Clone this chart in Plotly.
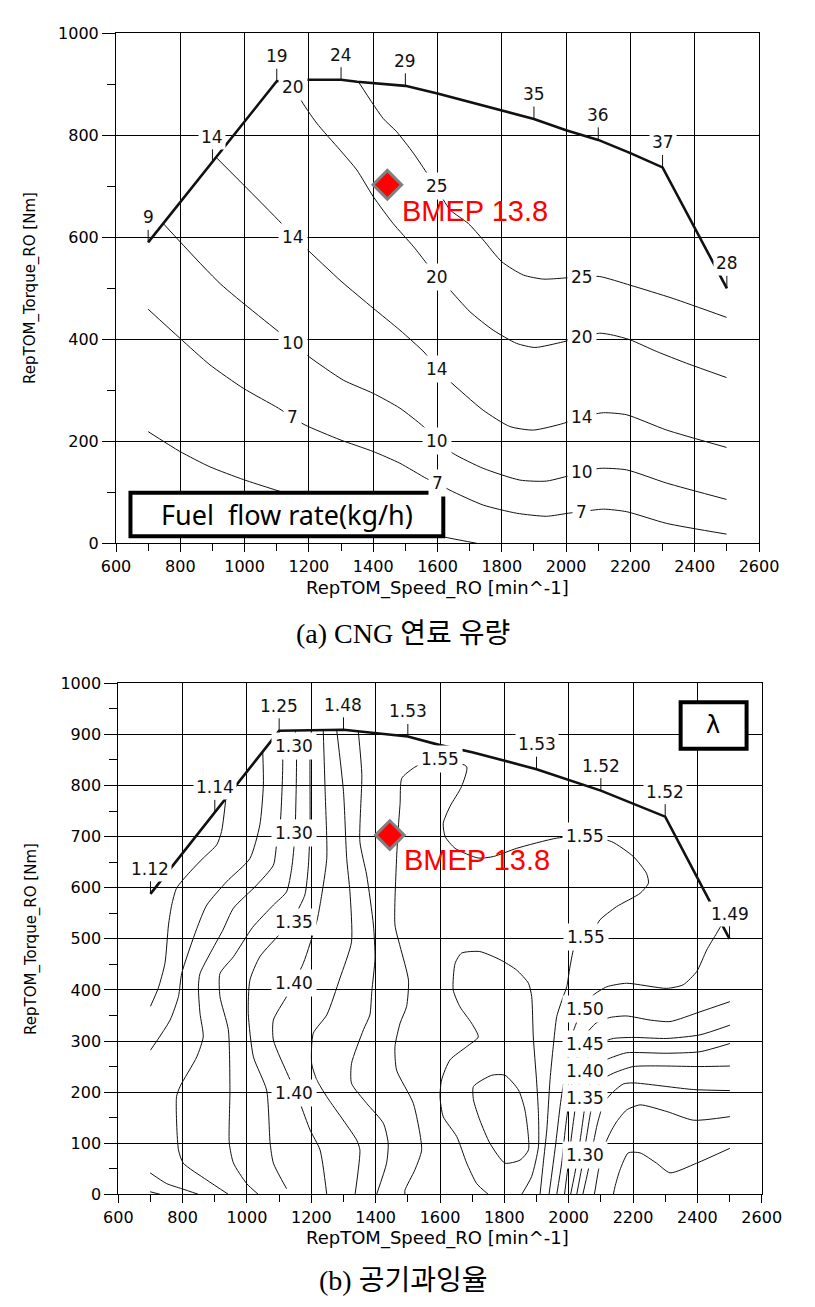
import numpy as np
import plotly.graph_objects as go

W, H = 815, 1307

# ---------------- (a) CNG fuel flow rate map ----------------
FUEL_FULL_SPEED = [700, 1100, 1200, 1300, 1350, 1500, 1600, 1800, 1900, 2000, 2100, 2200, 2300, 2500]
FUEL_FULL_TORQUE = [590, 906, 909, 909, 905, 897, 882, 848, 832, 810, 791, 765, 737, 500]
FUEL_FULL_LABEL_SPEED = [700, 900, 1100, 1300, 1500, 1900, 2100, 2300, 2500]
FUEL_FULL_LABEL_TEXT = ["9", "14", "19", "24", "29", "35", "36", "37", "28"]

FUEL_C25_SPEED = [1354, 1431, 1473, 1525, 1571, 1599, 1639, 1696, 1742, 1800, 1867, 1929, 1991, 2048, 2105, 2200, 2333, 2499]
FUEL_C25_TORQUE = [905, 833, 807, 765, 722, 694, 654, 627, 595, 552, 526, 518, 520, 523, 523, 506, 480, 443]
FUEL_C20_SPEED = [1155, 1172, 1224, 1297, 1349, 1400, 1462, 1525, 1566, 1599, 1634, 1701, 1773, 1846, 1903, 1991, 2048, 2105, 2147, 2199, 2282, 2375, 2499]
FUEL_C20_TORQUE = [908, 873, 824, 771, 732, 680, 627, 582, 549, 522, 500, 454, 418, 392, 384, 395, 404, 412, 408, 399, 376, 353, 325]
FUEL_C14_SPEED = [911, 1115, 1151, 1188, 1300, 1400, 1483, 1561, 1599, 1634, 1742, 1825, 1898, 1991, 2048, 2116, 2188, 2313, 2499]
FUEL_C14_TORQUE = [757, 627, 601, 580, 514, 461, 418, 373, 341, 320, 261, 229, 222, 235, 248, 256, 252, 222, 188]
FUEL_C10_SPEED = [747, 926, 1151, 1198, 1307, 1400, 1483, 1556, 1599, 1649, 1742, 1856, 1939, 2048, 2105, 2188, 2313, 2499]
FUEL_C10_TORQUE = [627, 508, 392, 367, 320, 294, 265, 229, 201, 176, 147, 124, 122, 139, 147, 144, 118, 86]
FUEL_C7_SPEED = [700, 799, 892, 996, 1105, 1149, 1188, 1297, 1400, 1483, 1566, 1599, 1639, 1742, 1846, 1939, 2007, 2048, 2116, 2188, 2313, 2499]
FUEL_C7_TORQUE = [459, 402, 350, 304, 265, 247, 232, 203, 180, 157, 127, 118, 104, 75, 59, 53, 59, 62, 67, 62, 39, 18]
FUEL_C4_SPEED = [700, 799, 892, 996, 1089, 1300, 1450, 1639, 1722]
FUEL_C4_TORQUE = [219, 180, 150, 125, 106, 65, 35, 10, 0]

FUEL_LABEL_TEXT = ["20", "25", "14", "20", "25", "10", "20", "14", "7", "14", "10", "10", "7", "7"]
FUEL_LABEL_SPEED = [1151, 1597, 1151, 1599, 2048, 1151, 2048, 1599, 1149, 2048, 1599, 2048, 1599, 2048]
FUEL_LABEL_TORQUE = [895, 701, 601, 522, 523, 392, 404, 341, 247, 248, 201, 139, 118, 62]

BMEP_SPEED = [1444]
BMEP_TORQUE = [703]

# ---------------- (b) excess air ratio (lambda) map ----------------
LAM_FULL_SPEED = [700, 1100, 1300, 1350, 1500, 1600, 1700, 1900, 2100, 2300, 2500]
LAM_FULL_TORQUE = [588, 907, 909, 906, 896, 879, 865, 832, 790, 739, 500]
LAM_FULL_LABEL_SPEED = [700, 900, 1100, 1300, 1500, 1900, 2100, 2300, 2500]
LAM_FULL_LABEL_TEXT = ["1.12", "1.14", "1.25", "1.48", "1.53", "1.53", "1.52", "1.52", "1.49"]

LAM_L1_SPEED = [935, 921, 906, 864, 823, 781, 766, 756, 745, 724, 700]
LAM_L1_TORQUE = [778, 710, 684, 658, 631, 599, 566, 527, 452, 403, 368]
LAM_L2_SPEED = [1049, 1051, 1040, 1009, 937, 875, 844, 797, 787, 761, 700]
LAM_L2_TORQUE = [866, 801, 723, 657, 612, 566, 520, 432, 387, 341, 282]
LAM_L3_SPEED = [1100, 1111, 1103, 1092, 1082, 1030, 958, 925, 854, 849, 854, 864, 844, 792, 781, 787, 802, 875, 942]
LAM_L3_TORQUE = [907, 856, 723, 684, 644, 605, 560, 517, 432, 406, 354, 308, 269, 211, 191, 87, 61, 28, 0]
LAM_L4_SPEED = [1150, 1154, 1149, 1139, 1123, 1082, 1017, 958, 916, 916, 942, 947, 945, 958, 999, 1035]
LAM_L4_TORQUE = [908, 856, 703, 638, 592, 566, 522, 465, 432, 387, 322, 204, 100, 61, 21, 0]
LAM_L5_SPEED = [1200, 1196, 1196, 1191, 1180, 1155, 1113, 1040, 1009, 1004, 1020, 1061, 1072, 1082, 1123]
LAM_L5_TORQUE = [908, 856, 723, 644, 586, 553, 517, 465, 419, 354, 269, 204, 100, 61, 11]
LAM_L6_SPEED = [1237, 1243, 1248, 1227, 1217, 1175, 1123, 1082, 1082, 1134, 1165, 1196, 1227, 1248]
LAM_L6_TORQUE = [909, 788, 657, 566, 534, 452, 387, 341, 302, 224, 178, 126, 87, 0]
LAM_L7_SPEED = [1279, 1300, 1310, 1320, 1325, 1289, 1248, 1206, 1201, 1217, 1248, 1341, 1351, 1336]
LAM_L7_TORQUE = [908, 788, 657, 592, 494, 423, 351, 315, 256, 224, 191, 106, 87, 0]
LAM_L8_SPEED = [1346, 1357, 1351, 1372, 1393, 1398, 1388, 1382, 1362, 1325, 1325, 1372, 1424, 1439, 1434, 1403]
LAM_L8_TORQUE = [906, 821, 690, 625, 527, 462, 397, 351, 322, 256, 217, 178, 139, 100, 61, 0]
LAM_L9_SPEED = [1600, 1560, 1517, 1481, 1476, 1471, 1465, 1460, 1476, 1502, 1496, 1476, 1460, 1465, 1517, 1543, 1522, 1491, 1491]
LAM_L9_TORQUE = [851, 848, 834, 814, 765, 723, 657, 527, 485, 419, 367, 335, 289, 243, 178, 87, 48, 8, 0]
LAM_M_SPEED = [1600, 1683, 1667, 1631, 1610, 1616, 1647, 1719, 1766, 1838, 1963, 2051, 2134, 2201, 2242, 2248, 2222, 2149, 2097, 2082, 2054, 2020, 2004, 1994, 1983, 1963, 1952, 1942, 1932, 1921, 1911]
LAM_M_TORQUE = [851, 837, 798, 759, 726, 700, 677, 658, 661, 677, 697, 701, 690, 661, 628, 609, 589, 563, 537, 521, 504, 488, 445, 406, 387, 348, 289, 224, 126, 61, 0]
LAM_U_SPEED = [1750, 1714, 1683, 1652, 1610, 1600, 1605, 1631, 1683, 1719, 1698, 1662, 1641, 1647, 1667, 1724, 1787, 1838, 1875, 1885, 1890, 1900, 1906, 1906, 1885, 1854]
LAM_U_TORQUE = [0, 21, 61, 113, 152, 191, 224, 263, 289, 308, 335, 367, 400, 452, 472, 475, 459, 439, 413, 387, 308, 224, 158, 93, 35, 0]
LAM_LOOP_SPEED = [1704, 1761, 1802, 1844, 1864, 1875, 1849, 1802, 1755, 1724, 1704, 1704]
LAM_LOOP_TORQUE = [211, 233, 233, 204, 165, 87, 67, 61, 100, 145, 185, 211]
LAM_R0_SPEED = [2476, 2460, 2429, 2398, 2356, 2305, 2180, 2118, 2077, 2045, 2015, 1995, 1975, 1958, 1939]
LAM_R0_TORQUE = [528, 511, 478, 436, 410, 403, 413, 406, 390, 365, 320, 260, 180, 90, 0]
LAM_R1_SPEED = [2501, 2408, 2315, 2253, 2180, 2128, 2085, 2050, 2025, 2005, 1990, 1978, 1963]
LAM_R1_TORQUE = [377, 357, 338, 341, 349, 346, 335, 310, 265, 200, 130, 60, 0]
LAM_R2_SPEED = [2501, 2408, 2305, 2201, 2139, 2095, 2065, 2040, 2022, 2008, 1997, 1987]
LAM_R2_TORQUE = [331, 312, 305, 307, 305, 295, 275, 235, 175, 110, 50, 0]
LAM_R3_SPEED = [2501, 2408, 2305, 2180, 2139, 2100, 2075, 2055, 2040, 2025, 2006]
LAM_R3_TORQUE = [295, 279, 276, 277, 269, 258, 235, 190, 125, 60, 0]
LAM_R4_SPEED = [2501, 2408, 2201, 2139, 2105, 2085, 2068, 2055, 2040, 2025]
LAM_R4_TORQUE = [251, 250, 250, 237, 225, 205, 160, 110, 50, 0]
LAM_R5_SPEED = [2501, 2388, 2201, 2170, 2139, 2110, 2090, 2075, 2060, 2044]
LAM_R5_TORQUE = [203, 205, 218, 216, 201, 180, 140, 95, 45, 0]
LAM_R6_SPEED = [2501, 2388, 2305, 2222, 2180, 2149, 2128, 2105, 2092, 2080]
LAM_R6_TORQUE = [152, 145, 162, 175, 165, 142, 119, 85, 45, 0]
LAM_R7_SPEED = [2501, 2398, 2315, 2273, 2222, 2185, 2159, 2144, 2139]
LAM_R7_TORQUE = [90, 61, 42, 61, 81, 81, 47, 15, 0]
LAM_S1_SPEED = [699, 750, 797, 849]
LAM_S1_TORQUE = [42, 21, 11, 0]
LAM_S2_SPEED = [699, 730]
LAM_S2_TORQUE = [5, 0]

LAM_LABEL_TEXT = ["1.30", "1.30", "1.35", "1.40", "1.40", "1.55", "1.55", "1.55", "1.50", "1.45", "1.40", "1.35", "1.30"]
LAM_LABEL_SPEED = [1147, 1147, 1147, 1147, 1147, 1600, 2051, 2054, 2051, 2051, 2051, 2051, 2051]
LAM_LABEL_TORQUE = [878, 708, 533, 413, 199, 851, 701, 504, 362, 294, 241, 188, 77]

# ---------------------------------------------------------------
fig = go.Figure()
LINE_COLOR = "#111111"


def add_line(xs, ys, axes, width=1.0, smooth=True):
    fig.add_trace(go.Scatter(
        x=xs, y=ys, mode="lines", xaxis=axes[0], yaxis=axes[1],
        line=dict(color=LINE_COLOR, width=width,
                  shape="spline" if smooth else "linear", smoothing=0.6),
        hoverinfo="skip", showlegend=False))


TOP = ("x", "y")
BOT = ("x2", "y2")

for xs, ys in [(FUEL_C25_SPEED, FUEL_C25_TORQUE), (FUEL_C20_SPEED, FUEL_C20_TORQUE),
               (FUEL_C14_SPEED, FUEL_C14_TORQUE), (FUEL_C10_SPEED, FUEL_C10_TORQUE),
               (FUEL_C7_SPEED, FUEL_C7_TORQUE), (FUEL_C4_SPEED, FUEL_C4_TORQUE)]:
    add_line(xs, ys, TOP)
add_line(FUEL_FULL_SPEED, FUEL_FULL_TORQUE, TOP, width=2.6, smooth=False)

for xs, ys in [(LAM_L1_SPEED, LAM_L1_TORQUE), (LAM_L2_SPEED, LAM_L2_TORQUE),
               (LAM_L3_SPEED, LAM_L3_TORQUE), (LAM_L4_SPEED, LAM_L4_TORQUE),
               (LAM_L5_SPEED, LAM_L5_TORQUE), (LAM_L6_SPEED, LAM_L6_TORQUE),
               (LAM_L7_SPEED, LAM_L7_TORQUE), (LAM_L8_SPEED, LAM_L8_TORQUE),
               (LAM_L9_SPEED, LAM_L9_TORQUE), (LAM_M_SPEED, LAM_M_TORQUE),
               (LAM_U_SPEED, LAM_U_TORQUE), (LAM_LOOP_SPEED, LAM_LOOP_TORQUE),
               (LAM_R0_SPEED, LAM_R0_TORQUE), (LAM_R1_SPEED, LAM_R1_TORQUE),
               (LAM_R2_SPEED, LAM_R2_TORQUE), (LAM_R3_SPEED, LAM_R3_TORQUE),
               (LAM_R4_SPEED, LAM_R4_TORQUE), (LAM_R5_SPEED, LAM_R5_TORQUE),
               (LAM_R6_SPEED, LAM_R6_TORQUE), (LAM_R7_SPEED, LAM_R7_TORQUE),
               (LAM_S1_SPEED, LAM_S1_TORQUE), (LAM_S2_SPEED, LAM_S2_TORQUE)]:
    add_line(xs, ys, BOT)
add_line(LAM_FULL_SPEED, LAM_FULL_TORQUE, BOT, width=2.6, smooth=False)

# BMEP operating point
for axes in (TOP, BOT):
    fig.add_trace(go.Scatter(
        x=BMEP_SPEED, y=BMEP_TORQUE, mode="markers", xaxis=axes[0], yaxis=axes[1],
        marker=dict(symbol="diamond", size=22, color="#ff0000",
                    line=dict(color="#808080", width=3)),
        hoverinfo="skip", showlegend=False))

annotations = []
LABEL_FONT = dict(family="DejaVu Sans", size=17, color="#111111")


def contour_labels(texts, xs, ys, axes):
    for t, x, y in zip(texts, xs, ys):
        annotations.append(dict(text=t, x=x, y=y, xref=axes[0], yref=axes[1],
                                xanchor="center", yanchor="middle",
                                showarrow=False, bgcolor="white", borderpad=3,
                                font=LABEL_FONT))


def full_load_labels(texts, xs, fl_x, fl_y, axes):
    for t, x in zip(texts, xs):
        y = float(np.interp(x, fl_x, fl_y))
        annotations.append(dict(text=t, x=x, y=y, xref=axes[0], yref=axes[1],
                                showarrow=True, arrowhead=0, arrowwidth=1,
                                arrowcolor=LINE_COLOR, ax=0, ay=-25, standoff=0,
                                bgcolor="white", borderpad=2, font=LABEL_FONT))


contour_labels(FUEL_LABEL_TEXT, FUEL_LABEL_SPEED, FUEL_LABEL_TORQUE, TOP)
full_load_labels(FUEL_FULL_LABEL_TEXT, FUEL_FULL_LABEL_SPEED, FUEL_FULL_SPEED, FUEL_FULL_TORQUE, TOP)
contour_labels(LAM_LABEL_TEXT, LAM_LABEL_SPEED, LAM_LABEL_TORQUE, BOT)
full_load_labels(LAM_FULL_LABEL_TEXT, LAM_FULL_LABEL_SPEED, LAM_FULL_SPEED, LAM_FULL_TORQUE, BOT)

# BMEP texts
for axes, ty in ((TOP, 651), (BOT, 655)):
    annotations.append(dict(text="BMEP 13.8", x=1483, y=ty, xref=axes[0], yref=axes[1],
                            xanchor="left", yanchor="middle", showarrow=False,
                            font=dict(family="Liberation Sans", size=29, color="#ff0000")))

# Box texts
annotations.append(dict(text="Fuel\u00a0 flow rate(kg/h)", x=1131, y=56, xref="x", yref="y",
                        xanchor="center", yanchor="middle",
                        showarrow=False, font=dict(family="Noto Sans", size=27, color="black")))
annotations.append(dict(text="λ", x=2450, y=918, xref="x2", yref="y2",
                        xanchor="center", yanchor="middle",
                        showarrow=False, font=dict(family="DejaVu Sans", size=24, color="black")))


# Axis titles and captions (paper coordinates)
def P(px, py):
    return px / W, 1 - py / H


for ty, cy in [(588, 288), (1238, 939)]:
    xx, yy = P(437, ty)
    annotations.append(dict(text="RepTOM_Speed_RO [min^-1]", x=xx, y=yy, xref="paper", yref="paper",
                            xanchor="center", yanchor="middle",
                            showarrow=False, font=dict(family="DejaVu Sans", size=18, color="black")))
    xx, yy = P(31, cy)
    annotations.append(dict(text="RepTOM_Torque_RO [Nm]", x=xx, y=yy, xref="paper", yref="paper",
                            xanchor="center", yanchor="middle",
                            showarrow=False, textangle=-90,
                            font=dict(family="DejaVu Sans", size=15, color="black")))

CAP_FONT = dict(family="Liberation Serif, Noto Sans CJK KR", size=28, color="black")
xx, yy = P(403, 633)
annotations.append(dict(text="(a) CNG 연료 유량", x=xx, y=yy, xref="paper", yref="paper",
                        xanchor="center", yanchor="middle", showarrow=False, font=CAP_FONT))
xx, yy = P(403, 1280)
annotations.append(dict(text="(b) 공기과잉율", x=xx, y=yy, xref="paper", yref="paper",
                        xanchor="center", yanchor="middle", showarrow=False, font=CAP_FONT))

shapes = [
    dict(type="rect", xref="x", yref="y", x0=645, x1=1618, y0=14, y1=99,
         line=dict(color="black", width=4), fillcolor="white", layer="above"),
    dict(type="rect", xref="x2", yref="y2", x0=2348, x1=2553, y0=872, y1=963,
         line=dict(color="black", width=4), fillcolor="white", layer="above"),
]

TICK_FONT = dict(family="DejaVu Sans", size=16, color="black")
common = dict(showline=True, linecolor="black", linewidth=1, mirror=True,
              showgrid=True, gridcolor="black", gridwidth=1, zeroline=False,
              ticks="outside", tickcolor="black", tickwidth=1, tickfont=TICK_FONT,
              automargin=False)

fig.update_layout(
    width=W, height=H, margin=dict(l=0, r=0, t=0, b=0, autoexpand=False),
    paper_bgcolor="white", plot_bgcolor="white",
    xaxis=dict(domain=[116 / W, 759 / W], range=[600, 2600], tick0=600, dtick=200, ticklen=8,
               minor=dict(dtick=100, ticks="outside", ticklen=7, tickcolor="black", showgrid=False),
               anchor="y", **common),
    yaxis=dict(domain=[1 - 543.3 / H, 1 - 33.3 / H], range=[0, 1000], tick0=0, dtick=200, ticklen=13,
               minor=dict(dtick=100, ticks="outside", ticklen=8, tickcolor="black", showgrid=False),
               anchor="x", **common),
    xaxis2=dict(domain=[118.3 / W, 761.7 / W], range=[600, 2600], tick0=600, dtick=200, ticklen=8,
                minor=dict(dtick=100, ticks="outside", ticklen=7, tickcolor="black", showgrid=False),
                anchor="y2", **common),
    yaxis2=dict(domain=[1 - 1194.3 / H, 1 - 683.3 / H], range=[0, 1000], tick0=0, dtick=100, ticklen=13,
                minor=dict(dtick=50, ticks="outside", ticklen=8, tickcolor="black", showgrid=False),
                anchor="x2", **common),
    annotations=annotations,
    shapes=shapes,
)

fig.write_html("out.html")
